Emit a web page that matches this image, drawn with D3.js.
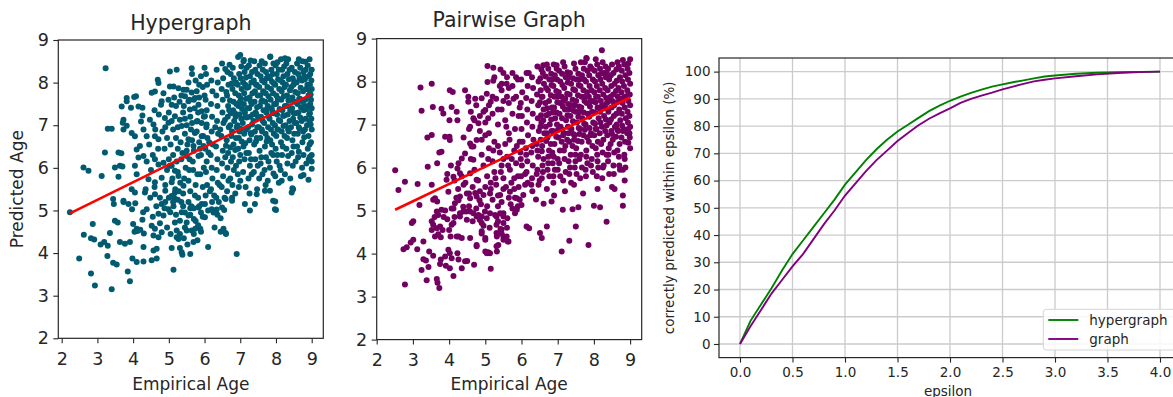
<!DOCTYPE html>
<html>
<head>
<meta charset="utf-8">
<script src="https://cdn.jsdelivr.net/npm/d3@7"></script>
<style>
  body { margin: 0; background: #fff; }
  svg { font-family: "DejaVu Sans", sans-serif; }
</style>
</head>
<body>
<svg id="chart" width="1173" height="397"></svg>
<script>
// ---- data ----
const ageTicks = [2, 3, 4, 5, 6, 7, 8, 9];

const hyperPts = [
  // sparse left / lower part
  [2.23,4.96],[2.87,4.68],[2.62,4.43],[2.82,4.35],[2.91,4.32],[2.49,3.87],[2.82,3.52],[2.93,3.24],[3.4,3.15],[3.09,4.2],
  [3.19,4.26],[3.29,4.17],[3.28,3.93],[3.44,3.77],[3.54,3.73],[3.35,4.47],[3.49,4.76],[3.57,4.72],[3.44,5.27],[3.46,5.15],
  [3.73,5.23],[3.63,4.26],[3.77,4.22],[3.91,4.26],[3.85,3.57],[3.91,3.34],[3.98,3.87],[4.1,3.79],[4.29,3.8],[4.0,4.68],
  [4.1,4.57],[4.04,4.5],[4.12,4.52],[4.2,4.55],[4.3,4.46],[4.28,4.96],[4.38,5.03],[4.26,4.78],[3.97,5.03],[4.06,5.17],
  [4.52,4.64],[4.61,4.57],[4.57,4.41],[4.71,4.37],[4.8,4.49],[4.57,4.06],[4.66,4.1],[4.52,3.83],[4.66,3.87],[4.29,4.14],
  [4.33,5.42],[4.61,5.38],[4.9,5.46],[5.08,5.34],[5.17,5.42],[4.8,5.15],[4.9,5.2],[4.99,5.03],[4.71,4.92],[4.85,4.88],
  [5.04,4.96],[5.17,4.72],[5.31,4.76],[5.5,4.72],[5.55,4.88],[5.36,4.96],[5.22,4.53],[5.31,4.45],[5.5,4.53],[5.64,4.53],
  [5.74,4.57],[5.88,4.57],[5.22,4.37],[5.27,4.33],[5.08,4.12],[5.31,4.12],[5.36,4.02],[5.38,3.96],[5.6,3.98],[5.13,3.61],
  [5.69,4.26],[6.1,4.14],[6.9,3.98],[6.53,4.57],[6.59,4.47],[6.01,4.84],[5.83,5.07],[6.01,5.15],[6.2,5.03],[6.34,5.02],
  [6.49,5.07],[6.55,5.01],[6.45,4.82],[6.59,5.27],[6.77,5.3],[6.77,5.23],[7.13,5.15],[7.27,5.0],[7.41,5.15],[7.46,5.38],
  [7.69,5.46],[7.92,5.23],[7.97,5.03],[7.83,5.46],[8.44,5.42],[8.48,5.5],[8.91,5.72],[9.0,5.98],[8.77,5.83],[7.93,5.87],
  [8.95,6.26],[9.0,6.15],
  // sparse upper left
  [3.23,8.34],[2.61,6.01],[2.75,5.93],[3.21,6.36],[3.29,6.92],[3.4,6.92],[3.59,6.36],[3.12,5.81],[3.49,6.01],[3.63,6.05],
  [3.73,7.13],[3.71,7.06],[3.82,7.64],[3.82,7.56],[3.68,7.44],[4.03,7.66],[4.08,7.68],[3.94,7.41],[4.15,7.44],[4.26,7.41],
  [4.26,7.23],[4.22,7.09],[3.73,6.9],[3.82,6.99],[3.96,6.82],[4.05,6.74],[4.29,6.9],[4.38,6.74],[4.1,6.43],[4.19,6.51],
  [4.15,6.24],[4.29,6.28],[4.05,6.05],[4.1,5.85],[3.96,5.5],[4.05,5.42],[4.47,7.13],[4.57,7.02],[4.52,7.76],[4.61,7.79],
  [4.69,8.07],[4.71,7.99],[4.8,7.56],[4.78,7.48],[5.03,8.26],[5.22,8.3],[5.03,7.91],[5.13,7.91],[5.27,7.87],[5.41,7.83],
  [5.5,7.83],[5.64,7.77],[5.64,8.34],[4.99,7.6],[5.08,7.48],[4.89,7.17],[4.99,7.06],[4.61,6.74],[4.71,6.67],[5.17,7.21],
  [5.31,7.13],[5.36,6.98],[4.61,6.2],[4.71,6.08],[4.85,6.12],[4.43,5.73],[4.61,5.66],[4.8,5.77],[5.03,6.05],[5.17,5.93],
  [5.27,5.81],[5.08,5.66],[5.41,5.58],[5.45,7.68],[5.55,7.56],[5.73,7.64],[5.83,7.48],[5.59,7.37],[5.92,7.33],[6.01,7.21],
  [5.78,7.09],[6.06,7.02],[5.73,6.82],[5.92,6.74],[5.55,6.67],[5.69,6.51],[5.97,6.51],[6.11,6.36],[5.83,6.28],[5.5,6.28],
  [3.59,5.79],[3.67,6.34],[3.7,6.03],[3.87,5.15],[3.73,5.2],
  // middle band
  [5.05,6.55],[5.12,6.3],[5.2,6.7],[5.25,6.45],[5.33,6.6],[5.38,6.35],[5.45,6.8],[5.52,6.55],[5.58,6.2],[5.65,6.65],
  [5.7,6.4],[5.78,6.85],[5.85,6.6],[5.9,6.3],[5.96,6.75],[5.1,5.75],[5.18,5.5],[5.25,5.9],[5.32,5.65],[5.4,5.4],
  [5.47,6.0],[5.55,5.7],[5.6,5.45],[5.68,5.95],[5.75,5.6],[5.82,5.3],[5.88,5.85],[5.95,5.55],[5.0,6.2],[4.95,5.95],
  [4.88,6.45],[4.82,6.85],[4.95,6.7],[4.7,6.45],[4.62,6.9],[4.55,6.3],[4.45,6.55],[4.5,5.95],[4.38,6.15],[4.35,5.5],
  [4.48,5.3],[4.6,5.55],[4.75,5.3],[4.9,5.6],[5.0,5.3],[5.13,5.1],[5.25,5.25],[5.4,5.1],[5.55,5.2],[5.7,5.05],
  [5.85,5.1],[5.95,4.85],[5.75,4.75],[5.6,4.9],[5.45,4.95],[5.8,4.3],[5.9,4.5],[5.52,4.2],[5.42,4.35],[5.7,4.45],
  [6.25,4.95],[6.4,5.2],[6.15,5.45],[6.28,4.6],[6.45,4.5],[6.6,4.45],[5.15,7.65],[5.3,7.55],[5.42,7.45],[5.6,7.2],
  [5.72,7.4],[5.85,7.65],[5.95,7.9],[5.9,8.15],[5.75,8.05],[5.55,8.0],[5.45,7.15],[5.25,6.95],[5.12,6.9],[5.62,6.9],
  [5.8,7.1],[5.98,7.2],[5.7,7.6],[6.0,8.35],
  [5.08,6.05],[5.15,5.3],[5.22,6.15],[5.28,5.45],[5.35,6.2],[5.43,5.75],[5.5,6.4],[5.57,5.95],[5.63,5.1],[5.67,6.15],
  [5.73,5.35],[5.8,5.85],[5.87,6.45],[5.92,5.15],[5.98,6.0],[6.1,5.0],[6.13,6.6],[6.27,5.35],[6.3,6.95],[6.42,5.6],
  [6.44,6.9],[6.56,5.3],[6.58,6.25],[6.72,5.75],[6.74,6.15],[6.86,5.4],[6.88,6.05],[7.0,5.7],[7.15,5.55],[7.17,6.35],
  [7.32,5.85],[7.47,5.5],[7.49,6.05],[7.62,5.85],[7.77,5.7],[7.79,6.15],[7.92,6.3],[8.08,5.65],[8.1,6.05],[8.25,5.85],
  [8.4,5.75],[8.55,6.15],[8.7,5.8],[8.85,6.1],
  [4.55,4.85],[4.65,5.1],[4.75,4.7],[4.88,5.05],[4.95,4.6],[5.05,4.45],[5.12,5.2],[5.2,4.9],[5.35,5.2],[5.45,4.6],
  [5.6,5.05],[5.7,4.8],[5.82,4.65],[5.9,4.95],
  [4.6,7.35],[4.72,7.25],[4.85,7.75],[4.9,6.95],[5.0,7.3],[5.08,7.1],[5.2,7.45],[5.35,7.7],[5.4,7.3],[5.5,7.0],
  [5.58,7.6],[5.65,7.05],[5.78,7.8],[5.82,7.3],[5.92,7.05],[6.0,7.7],[5.85,7.95],[5.65,8.2],
  // dense upper right
  [6.04,8.2],[6.07,7.95],[6.03,7.6],[6.06,7.35],[6.05,6.95],[6.08,6.7],[6.02,6.45],[6.06,6.15],[6.04,5.9],[6.07,5.6],[6.03,5.35],
  [6.19,8.05],[6.22,7.8],[6.18,7.5],[6.21,7.2],[6.2,6.85],[6.23,6.55],[6.17,6.3],[6.2,6.0],[6.22,5.75],[6.18,5.5],[6.21,5.2],
  [6.34,8.3],[6.37,8.0],[6.33,7.7],[6.36,7.45],[6.35,7.1],[6.38,6.8],[6.32,6.5],[6.36,6.2],[6.34,5.95],[6.37,5.65],[6.33,5.3],[6.36,4.9],
  [6.49,8.45],[6.52,8.1],[6.48,7.85],[6.51,7.6],[6.5,7.3],[6.53,7.05],[6.47,6.75],[6.51,6.4],[6.49,6.1],[6.52,5.8],[6.48,5.55],
  [6.64,8.25],[6.67,7.95],[6.63,7.7],[6.66,7.45],[6.65,7.2],[6.68,6.95],[6.62,6.65],[6.66,6.35],[6.64,6.0],[6.67,5.7],[6.63,5.45],
  [6.79,8.35],[6.82,8.1],[6.78,7.85],[6.81,7.55],[6.8,7.35],[6.83,7.1],[6.77,6.85],[6.81,6.55],[6.79,6.25],[6.82,5.95],[6.78,5.6],
  [6.94,8.6],[6.97,8.2],[6.93,7.95],[6.96,7.7],[6.95,7.45],[6.98,7.25],[6.92,7.0],[6.96,6.7],[6.94,6.45],[6.97,6.15],[6.93,5.85],[6.96,5.55],
  [7.09,8.5],[7.12,8.25],[7.08,8.0],[7.11,7.75],[7.1,7.5],[7.13,7.3],[7.07,7.05],[7.11,6.8],[7.09,6.5],[7.12,6.2],[7.08,5.9],
  [7.24,8.4],[7.27,8.15],[7.23,7.9],[7.26,7.65],[7.25,7.4],[7.28,7.2],[7.22,6.95],[7.26,6.65],[7.24,6.35],[7.27,6.05],[7.23,5.75],[7.26,5.4],
  [7.39,8.5],[7.42,8.3],[7.38,8.05],[7.41,7.8],[7.4,7.55],[7.43,7.3],[7.37,7.1],[7.41,6.85],[7.39,6.55],[7.42,6.2],[7.38,5.9],
  [7.54,8.4],[7.57,8.15],[7.53,7.9],[7.56,7.7],[7.55,7.45],[7.58,7.2],[7.52,6.95],[7.56,6.7],[7.54,6.4],[7.57,6.1],[7.53,5.75],
  [7.69,8.45],[7.72,8.25],[7.68,8.0],[7.71,7.75],[7.7,7.55],[7.73,7.3],[7.67,7.05],[7.71,6.8],[7.69,6.5],[7.72,6.25],[7.68,5.95],[7.71,5.6],
  [7.84,8.6],[7.87,8.3],[7.83,8.1],[7.86,7.85],[7.85,7.6],[7.88,7.4],[7.82,7.15],[7.86,6.9],[7.84,6.65],[7.87,6.35],[7.83,6.0],
  [7.99,8.4],[8.02,8.2],[7.98,7.95],[8.01,7.7],[8.0,7.5],[8.03,7.25],[7.97,7.0],[8.01,6.75],[7.99,6.45],[8.02,6.15],[7.98,5.8],
  [8.14,8.55],[8.17,8.3],[8.13,8.05],[8.16,7.8],[8.15,7.6],[8.18,7.35],[8.12,7.1],[8.16,6.85],[8.14,6.6],[8.17,6.3],[8.13,5.95],[8.16,5.7],
  [8.29,8.45],[8.32,8.2],[8.28,7.95],[8.31,7.7],[8.3,7.45],[8.33,7.25],[8.27,7.0],[8.31,6.7],[8.29,6.45],[8.32,6.1],
  [8.44,8.35],[8.47,8.1],[8.43,7.9],[8.46,7.65],[8.45,7.4],[8.48,7.15],[8.42,6.95],[8.46,6.65],[8.44,6.35],[8.47,6.05],
  [8.59,8.45],[8.62,8.2],[8.58,8.0],[8.61,7.75],[8.6,7.5],[8.63,7.3],[8.57,7.05],[8.61,6.8],[8.59,6.5],[8.62,6.25],
  [8.74,8.5],[8.77,8.25],[8.73,8.05],[8.76,7.8],[8.75,7.55],[8.78,7.35],[8.72,7.1],[8.76,6.85],[8.74,6.6],[8.77,6.3],[8.73,6.0],
  [8.89,8.4],[8.92,8.15],[8.88,7.95],[8.91,7.7],[8.9,7.45],[8.93,7.25],[8.87,7.0],[8.91,6.75],[8.89,6.45],[8.92,6.2],
  [9.0,8.3],[8.99,8.05],[9.0,7.85],[8.98,7.6],[9.0,7.4],[8.99,7.15],[9.0,6.9],[8.98,6.6],[9.0,6.3],
  [6.73,8.2],[6.76,7.98],[6.71,7.58],[6.74,7.28],[6.72,7.0],[6.75,6.75],
  [6.88,8.0],[6.86,7.75],[6.89,7.5],[6.87,7.2],[6.9,6.95],[6.88,6.7],
  [7.03,8.38],[7.01,8.1],[7.04,7.85],[7.02,7.62],[7.05,7.38],[7.03,7.15],[7.01,6.92],[7.04,6.62],
  [7.18,8.35],[7.16,8.12],[7.19,7.88],[7.17,7.62],[7.2,7.4],[7.18,7.18],[7.16,6.9],
  [7.33,8.25],[7.31,8.0],[7.34,7.75],[7.32,7.5],[7.35,7.25],[7.33,7.02],[7.31,6.78],
  [7.48,8.2],[7.46,7.95],[7.49,7.7],[7.47,7.42],[7.5,7.18],[7.48,6.95],[7.46,6.7],
  [7.63,8.3],[7.61,8.05],[7.64,7.8],[7.62,7.58],[7.65,7.35],[7.63,7.1],[7.61,6.85],
  [7.78,8.15],[7.76,7.9],[7.79,7.68],[7.77,7.45],[7.8,7.2],[7.78,6.95],[7.76,6.7],
  [7.93,8.45],[7.91,8.2],[7.94,7.98],[7.92,7.75],[7.95,7.5],[7.93,7.28],[7.91,7.05],[7.94,6.8],
  [8.08,8.3],[8.06,8.08],[8.09,7.85],[8.07,7.62],[8.1,7.38],[8.08,7.12],[8.06,6.9],
  [8.23,8.38],[8.21,8.15],[8.24,7.9],[8.22,7.68],[8.25,7.45],[8.23,7.22],[8.21,6.98],[8.24,6.75],
  [8.38,8.3],[8.36,8.08],[8.39,7.82],[8.37,7.58],[8.4,7.35],[8.38,7.1],[8.36,6.85],
  [8.53,8.25],[8.51,8.02],[8.54,7.78],[8.52,7.55],[8.55,7.28],[8.53,7.05],[8.51,6.8],
  [8.68,8.35],[8.66,8.1],[8.69,7.88],[8.67,7.62],[8.7,7.42],[8.68,7.18],[8.66,6.92],
  [8.83,8.3],[8.81,8.08],[8.84,7.85],[8.82,7.6],[8.85,7.38],[8.83,7.15],[8.81,6.9],
  [8.96,8.2],[8.95,7.95],[8.97,7.72],[8.96,7.5],[8.95,7.28],[8.97,7.02],
  [6.58,8.32],[6.61,7.78],[6.57,7.12],[6.6,6.52],[6.7,8.42],[6.69,7.35],[6.72,6.48],[6.84,7.98],[6.85,7.28],[6.86,6.42],
  [6.99,7.55],[6.98,6.85],[7.0,6.3],[7.14,7.95],[7.15,7.2],[7.14,6.58],[7.29,8.52],[7.3,7.55],[7.29,6.82],[7.3,6.2],
  [7.44,7.95],[7.45,7.25],[7.44,6.62],[7.6,8.5],[7.59,7.55],[7.6,6.9],[7.59,6.25],[7.74,8.1],[7.75,7.38],[7.74,6.62],
  [7.89,8.02],[7.9,7.32],[7.89,6.55],[8.04,8.48],[8.05,7.6],[8.04,6.9],[8.04,6.3],[8.19,8.0],[8.2,7.22],[8.19,6.5],
  [8.34,8.55],[8.35,7.58],[8.34,6.9],[8.34,6.28],[8.49,7.95],[8.5,7.28],[8.49,6.5],[8.64,8.55],[8.65,7.62],[8.64,6.95],
  [8.64,6.38],[8.79,8.15],[8.8,7.45],[8.79,6.72],[8.94,8.55],[8.93,7.82],[8.94,7.1],[8.94,6.55],
  [7.0,8.65],[7.1,8.53],[7.84,8.61],[8.25,8.57],[8.82,8.49],[8.46,5.52],[8.0,5.01],[7.98,5.21]
];
const hyperFit = [[2.23, 4.93], [9.0, 7.73]];

const pairPts = [
  // sparse left / lower part
  [3.18,5.13],[2.97,4.71],[3.01,4.75],[2.74,4.1],[2.83,4.15],[2.94,4.26],[3.01,4.32],[2.78,3.28],[3.12,4.1],[3.29,4.28],
  [3.29,3.87],[3.36,3.84],[3.24,3.62],[3.43,3.69],[3.45,4.05],[3.56,3.95],[3.38,3.38],[3.66,3.41],[3.68,3.32],[3.73,3.2],
  [3.56,5.25],[3.61,5.29],[3.66,4.98],[3.7,4.9],[3.79,5.02],[3.89,5.0],[3.52,4.75],[3.56,4.67],[3.66,4.59],[3.75,4.63],
  [3.82,4.55],[3.52,4.55],[3.61,4.4],[3.77,4.38],[4.04,4.4],[4.12,4.71],[4.07,4.67],[3.77,3.86],[3.89,3.93],[3.98,4.09],
  [4.02,4.01],[4.07,3.89],[3.75,3.76],[3.91,3.72],[4.02,3.66],[4.12,3.48],[4.23,4.01],[4.26,3.86],[4.35,3.66],[4.44,3.82],
  [4.5,3.83],[4.69,3.74],[4.26,4.4],[4.3,4.94],[4.39,4.98],[4.07,5.05],[4.16,5.17],[4.58,4.36],[4.76,4.2],[4.9,4.47],
  [5.0,4.32],[5.0,4.05],[5.08,4.03],[5.15,3.65],[5.32,4.05],[5.36,4.2],[5.32,4.4],[5.45,4.47],[5.5,4.32],[5.59,4.4],
  [5.42,4.57],[5.31,4.67],[5.5,4.71],[5.61,4.82],[5.5,4.86],[5.41,4.94],[5.62,4.28],[4.9,4.71],[5.04,4.82],[5.13,4.94],
  [5.27,4.9],[4.99,4.98],[4.58,4.98],[4.67,4.94],[4.76,4.86],[4.81,4.9],[4.85,4.78],[4.3,5.33],[4.58,5.29],[4.49,5.4],
  [4.76,5.33],[4.95,5.36],[5.13,5.4],[5.41,5.36],[5.68,5.44],[5.87,5.29],[6.05,5.36],[5.82,4.94],[5.87,5.02],[6.0,5.13],
  [6.14,4.63],[6.21,4.59],[6.51,4.48],[6.56,4.36],[6.7,4.63],[7.11,4.05],[7.32,4.3],[7.5,4.63],[7.85,4.2],[8.35,4.74],
  [8.8,5.11],[8.8,5.35],[8.17,5.08],[8.0,5.11],[7.57,5.08],[7.41,5.03],[7.14,5.02],[6.83,5.21],[6.4,5.26],[6.61,5.16],
  // sparse upper left
  [2.51,5.94],[2.78,5.67],[2.6,5.48],[3.21,7.86],[3.52,7.95],[3.24,7.32],[3.55,7.41],[3.4,6.7],[3.52,6.76],[3.13,5.62],
  [3.41,6.02],[3.52,5.6],[3.79,7.37],[3.84,7.26],[4.07,7.41],[4.02,7.8],[4.1,7.76],[4.21,7.3],[4.23,7.1],[4.44,7.8],
  [4.53,7.65],[4.53,7.53],[4.01,7.1],[3.89,6.72],[4.01,6.72],[3.79,6.37],[3.73,6.35],[4.02,6.64],[4.12,5.79],[4.23,5.98],
  [4.35,6.21],[4.44,6.33],[4.58,6.56],[4.67,6.49],[4.81,7.03],[4.9,7.61],[5.04,7.72],[5.15,7.53],[5.06,8.36],[5.22,8.32],
  [5.42,8.28],[5.06,7.99],[5.22,8.02],[5.45,7.95],[5.59,7.95],[3.67,6.1],[3.93,5.72],[3.98,5.44],[3.67,5.21],[4.3,5.87],
  [4.26,6.1],[4.26,5.24],[4.12,5.05],[4.3,4.86],[4.39,5.09],[4.47,4.98],[4.49,4.79],[4.21,4.4],[4.35,4.36],[4.58,6.95],
  [4.67,7.15],[4.76,6.64],[4.62,6.49],[4.67,6.18],[4.58,5.87],[4.76,5.72],[4.72,5.41],[4.84,5.24],[4.9,4.86],[4.76,4.17],
  [5.04,4.01],[5.13,4.01],[5.0,4.36],[4.9,4.52],[5.31,4.17],[5.31,4.48],[5.45,4.56],[5.5,4.4],[5.64,4.28],[5.31,4.86],
  [5.5,4.94],[5.0,7.34],
  // middle band
  [4.6,6.2],[4.7,5.95],[4.8,5.7],[4.9,6.3],[4.95,6.05],[5.05,5.8],[5.1,6.45],[5.2,6.15],[5.25,5.9],[5.3,5.6],
  [5.4,6.35],[5.45,6.05],[5.5,5.75],[5.55,6.55],[5.6,6.25],[5.68,5.95],[5.72,5.65],[5.8,6.4],[5.85,6.1],[5.9,5.8],
  [5.95,6.6],[4.45,5.65],[4.55,5.4],[4.65,5.55],[4.85,5.45],[5.0,5.55],[5.15,5.5],[5.35,5.35],[5.5,5.5],[5.65,5.3],
  [5.8,5.5],[5.95,5.25],[4.35,5.8],[4.25,5.5],[4.15,5.7],[4.05,6.05],[3.95,5.85],[4.4,6.7],[4.55,6.9],[4.7,7.1],
  [4.85,6.85],[5.0,7.05],[5.1,6.8],[5.2,7.25],[5.35,7.0],[5.45,7.35],[5.55,7.1],[5.65,7.5],[5.75,7.25],[5.85,7.65],
  [5.95,7.4],[5.3,7.6],[5.45,7.8],[5.6,7.65],[5.75,7.9],[5.9,8.05],[5.6,8.1],[4.75,7.45],[4.95,7.3],[5.1,7.45],
  [5.25,6.6],[5.65,6.8],[5.35,5.1],[5.75,5.05],[6.1,5.6],[6.3,5.45],[6.5,5.7],[6.7,5.5],[6.9,5.35],[7.2,5.45],
  [7.45,5.6],[7.7,5.4],[8.1,5.5],[8.5,5.55],[8.85,5.7],[8.8,5.95],
  [5.08,6.2],[5.15,5.65],[5.22,6.4],[5.28,5.75],[5.35,6.5],[5.43,5.9],[5.5,6.2],[5.57,5.55],[5.63,6.05],[5.67,6.65],
  [5.73,6.2],[5.8,5.75],[5.87,6.5],[5.92,5.55],[5.98,6.2],[6.1,5.85],[6.13,6.3],[6.27,5.6],[6.3,6.5],[6.42,5.85],
  [6.44,6.4],[6.56,5.75],[6.58,6.05],[6.72,5.95],[6.74,6.25],[6.86,6.1],[6.88,5.8],[7.0,5.95],[7.15,5.7],[7.17,6.4],
  [7.32,5.85],[7.47,6.0],[7.49,6.3],[7.62,5.75],[7.77,5.95],[7.79,6.25],[7.92,6.05],[8.08,5.8],[8.1,6.15],[8.25,6.0],
  [8.4,6.3],[8.55,5.85],[8.7,6.05],[8.85,6.2],
  [4.55,5.1],[4.65,4.75],[4.75,5.05],[4.88,5.15],[4.95,4.65],[5.05,5.1],[5.12,4.6],[5.2,5.25],[5.35,4.75],[5.45,5.2],
  [5.6,4.6],[5.7,5.15],[5.82,5.3],[5.9,5.1],[3.95,4.8],[4.0,4.55],[3.85,4.85],[3.6,4.85],[3.7,4.45],[4.15,4.85],
  [4.2,5.3],[4.4,5.6],
  [4.6,7.3],[4.72,7.6],[4.85,7.2],[4.9,6.65],[5.0,6.75],[5.08,7.15],[5.2,7.65],[5.35,7.35],[5.4,7.9],[5.5,7.55],
  [5.58,6.95],[5.65,7.85],[5.78,7.6],[5.82,6.9],[5.92,7.2],[5.75,8.2],[5.5,8.2],[5.25,8.1],
  // dense upper right
  [5.99,8.05],[6.02,7.75],[5.98,7.5],[6.01,7.2],[6.0,6.9],[6.03,6.6],[5.97,6.35],[6.01,6.05],[5.99,5.8],
  [6.14,8.2],[6.17,7.9],[6.13,7.62],[6.16,7.35],[6.15,7.05],[6.18,6.75],[6.12,6.45],[6.16,6.15],[6.14,5.9],[6.17,5.65],
  [6.29,8.1],[6.32,7.85],[6.28,7.55],[6.31,7.25],[6.3,6.95],[6.33,6.65],[6.27,6.35],[6.31,6.05],[6.29,5.75],
  [6.44,8.35],[6.47,8.0],[6.43,7.7],[6.46,7.45],[6.45,7.15],[6.48,6.85],[6.42,6.55],[6.46,6.25],[6.44,5.95],[6.47,5.6],
  [6.59,8.2],[6.62,7.95],[6.58,7.65],[6.61,7.35],[6.6,7.1],[6.63,6.8],[6.57,6.5],[6.61,6.2],[6.59,5.9],
  [6.74,8.3],[6.77,8.05],[6.73,7.8],[6.76,7.55],[6.75,7.25],[6.78,7.0],[6.72,6.7],[6.76,6.4],[6.74,6.1],[6.77,5.8],
  [6.89,8.4],[6.92,8.15],[6.88,7.9],[6.91,7.65],[6.9,7.4],[6.93,7.15],[6.87,6.85],[6.91,6.55],[6.89,6.25],[6.92,5.95],[6.88,5.65],
  [7.04,8.25],[7.07,8.0],[7.03,7.75],[7.06,7.5],[7.05,7.25],[7.08,6.95],[7.02,6.7],[7.06,6.4],[7.04,6.1],[7.07,5.8],
  [7.19,8.35],[7.22,8.1],[7.18,7.85],[7.21,7.6],[7.2,7.35],[7.23,7.1],[7.17,6.8],[7.21,6.5],[7.19,6.2],[7.22,5.9],
  [7.34,8.2],[7.37,7.95],[7.33,7.7],[7.36,7.45],[7.35,7.2],[7.38,6.9],[7.32,6.6],[7.36,6.3],[7.34,6.0],[7.37,5.65],
  [7.49,8.3],[7.52,8.05],[7.48,7.8],[7.51,7.55],[7.5,7.3],[7.53,7.05],[7.47,6.75],[7.51,6.45],[7.49,6.15],[7.52,5.85],
  [7.64,8.45],[7.67,8.15],[7.63,7.9],[7.66,7.65],[7.65,7.4],[7.68,7.15],[7.62,6.9],[7.66,6.6],[7.64,6.3],[7.67,6.0],
  [7.79,8.55],[7.82,8.25],[7.78,8.0],[7.81,7.75],[7.8,7.5],[7.83,7.25],[7.77,7.0],[7.81,6.7],[7.79,6.4],[7.82,6.1],[7.78,5.8],
  [7.94,8.3],[7.97,8.05],[7.93,7.8],[7.96,7.55],[7.95,7.3],[7.98,7.05],[7.92,6.8],[7.96,6.5],[7.94,6.2],[7.97,5.9],
  [8.09,8.4],[8.12,8.15],[8.08,7.9],[8.11,7.65],[8.1,7.4],[8.13,7.15],[8.07,6.9],[8.11,6.6],[8.09,6.3],[8.12,6.0],
  [8.24,8.45],[8.27,8.2],[8.23,7.95],[8.26,7.7],[8.25,7.45],[8.28,7.2],[8.22,6.95],[8.26,6.65],[8.24,6.35],[8.27,6.05],[8.23,5.75],
  [8.39,8.3],[8.42,8.05],[8.38,7.8],[8.41,7.55],[8.4,7.3],[8.43,7.05],[8.37,6.75],[8.41,6.45],[8.39,6.15],[8.42,5.85],
  [8.54,8.2],[8.57,7.95],[8.53,7.7],[8.56,7.45],[8.55,7.2],[8.58,6.95],[8.52,6.65],[8.56,6.35],[8.54,6.05],[8.57,5.5],
  [8.69,8.35],[8.72,8.1],[8.68,7.85],[8.71,7.6],[8.7,7.35],[8.73,7.1],[8.67,6.85],[8.71,6.55],[8.69,6.25],[8.72,5.95],
  [8.84,8.4],[8.87,8.15],[8.83,7.9],[8.86,7.65],[8.85,7.4],[8.88,7.15],[8.82,6.9],[8.86,6.6],[8.84,6.3],[8.87,6.0],
  [9.0,8.52],[8.98,8.2],[9.0,7.95],[8.99,7.7],[9.0,7.45],[8.98,7.2],[9.0,6.95],[8.99,6.7],[9.0,6.45],[8.98,6.8],
  [6.52,8.08],[6.53,7.8],[6.51,7.52],[6.54,7.22],[6.52,6.95],[6.53,6.65],
  [6.67,8.12],[6.68,7.85],[6.66,7.5],[6.69,7.22],[6.67,6.95],[6.68,6.62],
  [6.82,8.18],[6.83,7.92],[6.81,7.68],[6.84,7.4],[6.82,7.12],[6.83,6.85],[6.81,6.55],
  [6.97,8.3],[6.98,8.05],[6.96,7.78],[6.99,7.52],[6.97,7.28],[6.98,7.0],[6.96,6.72],
  [7.12,8.18],[7.13,7.92],[7.11,7.65],[7.14,7.42],[7.12,7.15],[7.13,6.88],[7.11,6.6],
  [7.27,8.22],[7.28,7.98],[7.26,7.72],[7.29,7.48],[7.27,7.22],[7.28,6.95],[7.26,6.65],
  [7.42,8.08],[7.43,7.82],[7.41,7.58],[7.44,7.32],[7.42,7.08],[7.43,6.78],[7.41,6.5],
  [7.57,8.18],[7.58,7.92],[7.56,7.68],[7.59,7.42],[7.57,7.18],[7.58,6.92],[7.56,6.62],
  [7.72,8.3],[7.73,8.05],[7.71,7.8],[7.74,7.55],[7.72,7.28],[7.73,7.02],[7.71,6.75],
  [7.87,8.15],[7.88,7.9],[7.86,7.65],[7.89,7.42],[7.87,7.18],[7.88,6.92],[7.86,6.6],
  [8.02,8.25],[8.03,8.0],[8.01,7.75],[8.04,7.52],[8.02,7.28],[8.03,7.02],[8.01,6.75],
  [8.17,8.3],[8.18,8.05],[8.16,7.8],[8.19,7.55],[8.17,7.3],[8.18,7.05],[8.16,6.8],
  [8.32,8.35],[8.33,8.1],[8.31,7.85],[8.34,7.62],[8.32,7.38],[8.33,7.12],[8.31,6.85],
  [8.47,8.15],[8.48,7.9],[8.46,7.65],[8.49,7.4],[8.47,7.12],[8.48,6.85],[8.46,6.55],
  [8.62,8.28],[8.63,8.02],[8.61,7.78],[8.64,7.52],[8.62,7.25],[8.63,7.0],[8.61,6.72],
  [8.77,8.25],[8.78,8.0],[8.76,7.75],[8.79,7.5],[8.77,7.25],[8.78,6.98],[8.76,6.7],
  [8.93,8.3],[8.94,8.05],[8.92,7.8],[8.95,7.55],[8.93,7.3],[8.94,7.05],[8.92,6.8],
  [6.55,8.28],[6.56,7.65],[6.55,7.05],[6.56,6.38],[6.7,8.4],[6.71,7.38],[6.7,6.8],[6.85,8.05],[6.86,7.28],[6.85,6.35],
  [7.0,7.65],[7.01,6.88],[7.0,6.2],[7.15,8.45],[7.16,7.55],[7.15,6.75],[7.3,8.1],[7.31,7.35],[7.3,6.8],[7.3,6.15],
  [7.45,8.42],[7.46,7.45],[7.45,6.65],[7.6,8.05],[7.61,7.3],[7.6,6.78],[7.6,6.2],[7.75,8.45],[7.76,7.65],[7.75,6.88],
  [7.9,8.35],[7.91,7.55],[7.9,6.75],[8.05,8.52],[8.06,7.65],[8.05,6.9],[8.05,6.45],[8.2,8.18],[8.21,7.42],[8.2,6.55],
  [8.35,8.22],[8.36,7.5],[8.35,6.98],[8.35,6.3],[8.5,8.4],[8.51,7.55],[8.5,6.78],[8.65,8.45],[8.66,7.65],[8.65,6.88],
  [8.65,6.4],[8.8,8.5],[8.81,7.62],[8.8,6.85],[8.95,8.42],[8.94,7.68],[8.95,6.9],[8.95,6.58],
  [8.22,8.73],[7.8,8.54],[6.6,8.38],[6.97,8.38],[6.2,8.2],[5.85,8.1]
];
const pairFit = [[2.51, 5.02], [9.0, 7.63]];

const epsilon  = [0,0.1,0.2,0.3,0.4,0.5,0.6,0.7,0.8,0.9,1.0,1.1,1.2,1.3,1.4,1.5,1.6,1.7,1.8,1.9,
                  2.0,2.1,2.2,2.3,2.4,2.5,2.6,2.7,2.8,2.9,3.0,3.2,3.4,3.6,3.8,4.0];
const hyperCdf = [0,8.5,14.5,20.5,27,33,38,43,48,53,58.5,63,67.5,71.5,75,78,80.5,83,85.5,87.5,
                  89.3,90.8,92.2,93.4,94.5,95.3,96.1,96.8,97.5,98.2,98.6,99.2,99.6,99.8,99.9,100];
const graphCdf = [0,6.5,12.5,18.5,23.5,28.5,33,38.5,44,49,54.5,59,63.5,67.5,71,74.5,77.5,80.3,82.7,84.7,
                  86.5,88.5,90,91.2,92.3,93.5,94.5,95.5,96.4,97,97.5,98.3,99,99.5,99.8,100];
const epsTicks = [0, 0.5, 1, 1.5, 2, 2.5, 3, 3.5, 4];
const pctTicks = [0, 10, 20, 30, 40, 50, 60, 70, 80, 90, 100];
const cdfSeries = [
  { name: "hypergraph", values: hyperCdf, color: "#008000" },
  { name: "graph", values: graphCdf, color: "#800080" }
];

const svg = d3.select("#chart");
const ink = "#262626";

function styleAxis(sel, size) {
  sel.attr("font-family", "DejaVu Sans").attr("font-size", size);
  sel.select(".domain").remove();
  sel.selectAll(".tick line").attr("stroke", ink).attr("stroke-width", 1.1);
  sel.selectAll(".tick text").attr("fill", ink);
}

function scatterPanel(o) {
  const x = d3.scaleLinear().domain(o.xDom).range([o.left, o.right]);
  const y = d3.scaleLinear().domain([2, 9]).range([o.bottom, o.top]);
  const g = svg.append("g");

  g.append("g").selectAll("circle")
    .data(o.pts)
    .enter().append("circle")
    .attr("cx", d => x(d[0]))
    .attr("cy", d => y(d[1]))
    .attr("r", 3)
    .attr("fill", o.color);

  g.append("line")
    .attr("x1", x(o.fit[0][0])).attr("y1", y(o.fit[0][1]))
    .attr("x2", x(o.fit[1][0])).attr("y2", y(o.fit[1][1]))
    .attr("stroke", "#ff0000").attr("stroke-width", 2.6);

  const xa = g.append("g").attr("transform", `translate(0,${o.bottom})`)
    .call(d3.axisBottom(x).tickValues(ageTicks).tickFormat(d3.format("d")).tickSize(5).tickSizeOuter(0));
  styleAxis(xa, 17.5);
  xa.selectAll(".tick text").attr("y", 26.5).attr("dy", null);

  const ya = g.append("g").attr("transform", `translate(${o.left},0)`)
    .call(d3.axisLeft(y).tickValues(ageTicks).tickFormat(d3.format("d")).tickSize(5).tickPadding(4.5).tickSizeOuter(0));
  styleAxis(ya, 17.5);

  g.append("rect")
    .attr("x", o.left).attr("y", o.top)
    .attr("width", o.right - o.left).attr("height", o.bottom - o.top)
    .attr("fill", "none").attr("stroke", ink).attr("stroke-width", 1.2);

  g.append("text")
    .attr("x", (o.left + o.right) / 2).attr("y", o.titleY)
    .attr("text-anchor", "middle").attr("font-size", 20.5).attr("fill", ink)
    .text(o.title);

  g.append("text")
    .attr("x", (o.left + o.right) / 2).attr("y", 389.5)
    .attr("text-anchor", "middle").attr("font-size", 17).attr("fill", ink)
    .text("Empirical Age");

  if (o.ylabel) {
    g.append("text")
      .attr("transform", `translate(23,${(o.top + o.bottom) / 2}) rotate(-90)`)
      .attr("text-anchor", "middle").attr("font-size", 17).attr("fill", ink)
      .text(o.ylabel);
  }
}

scatterPanel({ left: 58.3, right: 323.3, top: 40, bottom: 338.3, xDom: [1.905, 9.325],
  pts: hyperPts, fit: hyperFit, color: "#005a70", title: "Hypergraph", titleY: 30, ylabel: "Predicted Age" });
scatterPanel({ left: 376.7, right: 641.7, top: 38.6, bottom: 339.6, xDom: [2, 9.32],
  pts: pairPts, fit: pairFit, color: "#720060", title: "Pairwise Graph", titleY: 27 });

// ---- right panel: share predicted within epsilon ----
const box = { left: 719, right: 1181, top: 58, bottom: 357.6 };
const xe = d3.scaleLinear().domain([-0.2, 4.2]).range([box.left, box.right]);
const ye = d3.scaleLinear().domain([-5, 105]).range([box.bottom, box.top]);
const gc = svg.append("g");

gc.append("g").selectAll("line.vg").data(epsTicks).enter().append("line")
  .attr("x1", d => xe(d)).attr("x2", d => xe(d))
  .attr("y1", box.top).attr("y2", box.bottom)
  .attr("stroke", "#cbcbcb").attr("stroke-width", 1.3);
gc.append("g").selectAll("line.hg").data(pctTicks).enter().append("line")
  .attr("x1", box.left).attr("x2", box.right)
  .attr("y1", d => ye(d)).attr("y2", d => ye(d))
  .attr("stroke", "#cbcbcb").attr("stroke-width", 1.3);

const line = d3.line().x((d, i) => xe(epsilon[i])).y(d => ye(d));
cdfSeries.forEach(s => {
  gc.append("path").datum(s.values)
    .attr("d", line).attr("fill", "none")
    .attr("stroke", s.color).attr("stroke-width", 1.9);
});

const xea = gc.append("g").attr("transform", `translate(0,${box.bottom})`)
  .call(d3.axisBottom(xe).tickValues(epsTicks).tickFormat(d3.format(".1f")).tickSize(5).tickSizeOuter(0));
styleAxis(xea, 13.5);
xea.selectAll(".tick text").attr("y", 19.5).attr("dy", null);

const yea = gc.append("g").attr("transform", `translate(${box.left},0)`)
  .call(d3.axisLeft(ye).tickValues(pctTicks).tickFormat(d3.format("d")).tickSize(5).tickPadding(3.5).tickSizeOuter(0));
styleAxis(yea, 13.5);

gc.append("rect")
  .attr("x", box.left).attr("y", box.top)
  .attr("width", box.right - box.left).attr("height", box.bottom - box.top)
  .attr("fill", "none").attr("stroke", ink).attr("stroke-width", 1.2);

gc.append("text")
  .attr("x", (box.left + box.right) / 2 - 2).attr("y", 395.5)
  .attr("text-anchor", "middle").attr("font-size", 13.5).attr("fill", ink)
  .text("epsilon");
gc.append("text")
  .attr("transform", `translate(674,${(box.top + box.bottom) / 2}) rotate(-90)`)
  .attr("text-anchor", "middle").attr("font-size", 13.5).attr("fill", ink)
  .text("correctly predicted within epsilon (%)");

// legend
const lg = gc.append("g");
lg.append("rect")
  .attr("x", 1043.3).attr("y", 309.3).attr("width", 150).attr("height", 40.7)
  .attr("rx", 3).attr("fill", "#fff").attr("fill-opacity", 0.85)
  .attr("stroke", "#d5d5d5").attr("stroke-width", 1);
cdfSeries.forEach((s, i) => {
  const yy = 320 + i * 19;
  lg.append("line").attr("x1", 1048.3).attr("x2", 1078.3).attr("y1", yy).attr("y2", yy)
    .attr("stroke", s.color).attr("stroke-width", 1.9);
  lg.append("text").attr("x", 1089.3).attr("y", yy + 4.6)
    .attr("font-size", 13.5).attr("fill", ink).text(s.name);
});
</script>
</body>
</html>
